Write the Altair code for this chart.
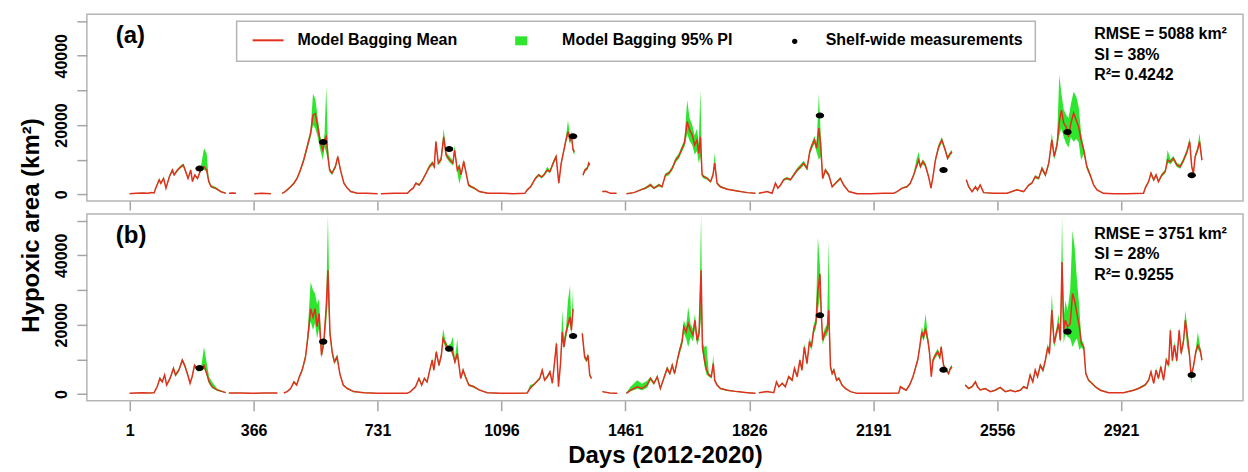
import altair as alt
import pandas as pd

# Daily hypoxic-area series, stored in thousands of km2. A None entry in every
# list marks a gap (days without model output), which breaks the line and band.
A_DAY = [
    1, 20, 40, 55, 65, 73, 78, 83, 88, 93, 101, 108, 118, 127, 132, 142, 152, 159, 166, 173, 181, 186, 193, 201, 210, 220, 228, 234, 241, 254, 269, 284, None,
    294, 304, 314, None, 368, 390, 417, None,
    450, 458, 465, 475, 485, 494, 504, 514, 524, 534, 541, 548, 555, 563, 570, 575, 580, 585, 590, 597, 607, 614, 622, 632, 642, 652, 672, 700, 731, None,
    741, 780, 819, 829, 836, 844, 854, 864, 874, 884, 893, 898, 903, 910, 918, 926, 933, 943, 953, 958, 966, 972, 977, 985, 992, 999, 1007, 1016, 1031, 1056, 1095, 1130, 1165,
    1172, 1182, 1196, 1206, 1214, 1221, 1231, 1239, 1248, 1257, 1265, 1272, 1278, 1285, 1292, 1298, 1302, 1307, 1311, None,
    1336, 1342, 1349, 1353, 1356, None, 1393, 1403, 1417, 1435, None,
    1464, 1486, 1506, 1520, 1535, 1545, 1560, 1569, 1579, 1589, 1599, 1609, 1618, 1628, 1635, 1643, 1650, 1658, 1665, 1672, 1677, 1682, 1687, 1692, 1702, 1712, 1719, 1724, 1731, 1741, 1761, 1790, 1820, 1844, None,
    1854, 1878, 1893, 1903, 1910, 1918, 1927, 1937, 1947, 1957, 1967, 1977, 1986, 1996, 2004, 2011, 2018, 2024, 2031, 2036, 2042, 2050, 2060, 2070, 2080, 2094, 2104, 2119, 2143, 2183, 2220, 2251,
    2261, 2276, 2290, 2300, 2310, 2318, 2325, 2330, 2337, 2344, 2354, 2361, 2367, 2374, 2384, 2393, 2403, 2410, 2418, 2423, None,
    2465, 2472, 2482, 2492, 2498, 2506, 2516, 2546, 2585, 2614, 2634, 2649, 2658, 2668, 2678, 2688, 2698, 2708, 2717, 2724, 2732, 2739, 2745, 2752, 2759, 2766, 2773, 2781, 2789, 2796, 2803, 2811, 2820, 2830, 2840, 2850, 2869, 2899, 2938, 2987,
    2992, 3002, 3009, 3017, 3024, 3031, 3041, 3051, 3058, 3066, 3075, 3085, 3095, 3105, 3115, 3123, 3129, 3134, 3139, 3146, 3152, 3159,
]
A_MEAN = [
    0.2, 0.3, 0.4, 0.3, 0.5, 0.4, 1.8, 3.0, 4.2, 3.2, 4.6, 1.8, 5.1, 7.0, 5.6, 7.0, 8.0, 8.5, 6.6, 4.6, 7.0, 3.7, 5.6, 4.6, 7.0, 8.0, 7.0, 3.7, 2.2, 1.8, 0.8, 0.3, None,
    0.3, 0.4, 0.3, None, 0.2, 0.3, 0.2, None,
    0.3, 0.7, 1.3, 2.2, 3.2, 4.6, 7.0, 10.0, 13.8, 17.6, 22.9, 23.3, 19.5, 14.7, 12.8, 15.7, 16.6, 10.9, 7.0, 6.1, 8.0, 10.9, 7.0, 3.2, 1.8, 0.8, 0.3, 0.3, 0.2, None,
    0.2, 0.3, 0.3, 1.3, 1.8, 3.2, 2.7, 4.2, 6.1, 8.0, 9.0, 8.0, 15.2, 9.0, 10.0, 16.6, 11.4, 10.0, 9.0, 12.8, 7.0, 8.0, 5.6, 9.5, 6.1, 2.7, 2.2, 1.8, 0.8, 0.3, 0.3, 0.2, 0.3,
    1.3, 2.2, 4.6, 5.6, 5.0, 5.6, 7.0, 6.6, 9.0, 10.9, 3.2, 9.0, 11.8, 15.2, 18.1, 15.7, 17.1, 12.8, 12.3, None,
    5.6, 7.0, 7.5, 9.0, 8.5, None, 0.8, 0.9, 0.3, 0.3, None,
    0.2, 0.5, 1.3, 1.8, 2.7, 1.8, 2.7, 2.2, 5.6, 6.1, 7.5, 9.9, 10.9, 13.3, 14.7, 21.0, 18.6, 17.1, 14.2, 15.7, 11.8, 16.6, 5.6, 5.1, 4.6, 3.7, 5.6, 9.0, 3.2, 2.2, 1.5, 1.0, 0.5, 0.3, None,
    0.3, 0.8, 0.3, 3.2, 1.8, 2.7, 4.2, 4.6, 4.2, 5.6, 7.0, 8.0, 9.0, 7.5, 12.3, 14.2, 15.7, 13.3, 19.1, 14.7, 4.6, 7.0, 5.6, 2.2, 3.2, 4.6, 2.7, 0.8, 0.2, 0.2, 0.3, 0.3,
    0.8, 1.8, 2.2, 3.2, 5.6, 8.0, 9.9, 8.0, 9.4, 8.5, 5.1, 1.8, 5.1, 9.9, 13.8, 15.7, 12.8, 10.4, 11.8, 12.3, None,
    4.2, 2.2, 0.8, 2.2, 1.2, 2.7, 0.5, 0.3, 0.3, 1.3, 0.8, 2.7, 3.2, 5.1, 4.6, 7.5, 5.6, 9.0, 15.7, 10.9, 14.2, 21.0, 24.3, 20.5, 19.5, 16.6, 20.5, 23.4, 21.4, 19.5, 15.7, 12.8, 8.0, 5.6, 2.7, 1.3, 0.3, 0.2, 0.2, 0.3,
    1.8, 3.7, 6.1, 4.2, 5.6, 3.7, 5.6, 6.6, 9.9, 9.4, 10.4, 8.5, 8.0, 9.9, 12.3, 15.2, 8.0, 6.1, 10.9, 12.8, 15.2, 9.9,
]
A_LO = [
    0.2, 0.3, 0.4, 0.3, 0.4, 0.4, 1.6, 2.8, 3.9, 3.0, 4.3, 1.6, 4.8, 6.6, 5.3, 6.6, 7.6, 8.0, 6.2, 4.3, 6.6, 3.4, 5.3, 4.3, 6.5, 7.2, 6.4, 3.3, 1.9, 1.5, 0.6, 0.2, None,
    0.2, 0.3, 0.2, None, 0.1, 0.2, 0.1, None,
    0.2, 0.6, 1.1, 2.0, 2.9, 4.3, 6.5, 9.4, 12.9, 16.5, 20.0, 19.0, 16.5, 12.5, 9.9, 13.5, 12.0, 9.9, 6.4, 5.6, 7.5, 10.2, 6.5, 2.9, 1.6, 0.6, 0.2, 0.2, 0.1, None,
    0.1, 0.2, 0.2, 1.1, 1.6, 3.0, 2.5, 3.9, 5.7, 7.5, 8.4, 7.5, 14.3, 8.4, 9.4, 15.0, 10.7, 9.3, 8.3, 12.0, 6.4, 3.0, 5.1, 8.8, 5.5, 2.3, 1.9, 1.5, 0.6, 0.2, 0.2, 0.1, 0.2,
    1.1, 2.0, 4.3, 5.2, 4.6, 5.2, 6.6, 6.1, 8.4, 10.2, 2.9, 8.5, 11.1, 14.3, 17.0, 14.6, 16.0, 11.9, 11.5, None,
    5.0, 6.5, 7.0, 8.5, 8.0, None, 0.7, 0.8, 0.2, 0.2, None,
    0.1, 0.4, 1.1, 1.5, 2.3, 1.5, 2.3, 1.9, 5.1, 5.5, 6.9, 9.2, 10.2, 12.4, 13.7, 17.5, 15.5, 14.2, 11.5, 12.5, 9.0, 11.0, 5.0, 4.6, 4.2, 3.3, 5.1, 8.2, 2.8, 1.9, 1.3, 0.8, 0.4, 0.2, None,
    0.2, 0.7, 0.2, 2.9, 1.6, 2.5, 3.9, 4.2, 3.9, 5.2, 6.5, 7.4, 8.4, 6.9, 11.4, 13.2, 14.6, 12.2, 9.9, 11.0, 4.1, 6.4, 5.1, 1.9, 2.9, 4.2, 2.4, 0.7, 0.1, 0.1, 0.2, 0.2,
    0.7, 1.6, 1.9, 2.9, 5.1, 7.4, 9.2, 7.4, 8.7, 7.9, 4.7, 1.5, 4.7, 9.3, 13.0, 14.9, 12.2, 9.9, 11.2, 11.7, None,
    3.9, 1.9, 0.6, 1.9, 1.0, 2.4, 0.4, 0.2, 0.2, 1.1, 0.7, 2.4, 2.9, 4.6, 4.2, 6.9, 5.1, 8.3, 14.6, 10.0, 13.1, 17.0, 19.0, 16.5, 14.7, 13.5, 16.5, 15.2, 16.0, 15.0, 9.9, 11.6, 7.2, 5.0, 2.4, 1.1, 0.2, 0.1, 0.1, 0.2,
    1.5, 3.3, 5.5, 3.8, 5.1, 3.3, 5.1, 6.0, 9.2, 8.7, 9.7, 7.9, 7.4, 9.2, 11.5, 14.3, 7.4, 5.5, 10.2, 12.0, 14.3, 9.2,
]
A_HI = [
    0.3, 0.4, 0.5, 0.4, 0.6, 0.5, 2.0, 3.4, 4.6, 3.5, 5.0, 2.0, 5.5, 7.5, 6.0, 7.4, 8.4, 8.9, 7.0, 4.9, 7.4, 4.0, 5.9, 4.9, 7.5, 13.3, 11.8, 4.3, 2.7, 2.1, 1.1, 0.4, None,
    0.4, 0.5, 0.4, None, 0.3, 0.4, 0.3, None,
    0.4, 0.8, 1.5, 2.5, 3.6, 5.0, 7.6, 10.8, 14.6, 18.8, 29.0, 27.5, 22.0, 16.5, 14.5, 17.5, 31.0, 14.0, 7.7, 6.6, 8.6, 11.5, 7.5, 3.5, 2.0, 1.0, 0.4, 0.4, 0.3, None,
    0.3, 0.4, 0.4, 1.5, 2.0, 3.5, 3.0, 4.6, 6.6, 8.6, 9.6, 8.5, 15.7, 9.6, 10.8, 19.0, 12.2, 11.0, 9.8, 14.2, 7.8, 8.8, 6.2, 10.2, 6.6, 3.1, 2.5, 2.1, 1.0, 0.4, 0.4, 0.3, 0.4,
    1.5, 2.5, 5.0, 6.0, 5.4, 6.0, 8.0, 7.0, 9.6, 11.5, 3.6, 9.5, 12.5, 15.9, 21.4, 16.8, 18.3, 13.4, 12.9, None,
    6.1, 7.5, 8.0, 9.5, 9.0, None, 0.9, 1.0, 0.4, 0.4, None,
    0.3, 0.6, 1.5, 2.1, 3.2, 2.1, 3.1, 2.5, 6.1, 6.6, 8.1, 10.6, 11.7, 14.2, 15.8, 27.2, 22.0, 20.0, 17.0, 19.0, 14.5, 30.0, 6.3, 5.5, 5.0, 4.0, 6.2, 12.0, 3.6, 2.5, 1.7, 1.2, 0.6, 0.4, None,
    0.4, 0.9, 0.4, 3.5, 2.0, 3.0, 4.6, 5.0, 4.6, 6.1, 7.6, 8.7, 9.7, 8.2, 13.2, 15.1, 16.9, 14.4, 29.1, 18.0, 5.1, 7.6, 6.1, 2.5, 3.6, 5.0, 3.0, 1.0, 0.3, 0.3, 0.4, 0.4,
    0.9, 2.0, 2.5, 3.5, 6.1, 10.0, 12.3, 8.7, 10.1, 9.2, 5.6, 2.1, 5.6, 10.6, 14.6, 16.5, 13.4, 11.0, 12.4, 12.8, None,
    4.5, 2.5, 1.0, 2.5, 1.4, 3.0, 0.6, 0.4, 0.4, 1.5, 0.9, 3.0, 3.5, 5.6, 5.0, 8.1, 6.1, 9.7, 17.7, 11.7, 15.3, 34.4, 29.2, 24.5, 23.0, 22.0, 26.0, 29.6, 28.2, 25.3, 18.0, 13.6, 8.6, 6.1, 3.0, 1.5, 0.4, 0.3, 0.3, 0.4,
    2.1, 4.1, 6.7, 4.6, 6.1, 4.1, 6.1, 7.2, 12.8, 10.1, 11.1, 9.1, 8.6, 10.6, 13.1, 16.5, 8.6, 6.7, 11.6, 13.6, 17.6, 10.6,
]

B_DAY = [
    1, 20, 40, 55, 73, 82, 90, 97, 104, 110, 120, 130, 136, 146, 156, 163, 171, 179, 185, 192, 202, 212, 220, 228, 235, 244, 259, 284, None,
    293, 330, 360, 400, 436, None,
    455, 465, 475, 485, 493, 499, 509, 519, 526, 534, 541, 547, 553, 559, 566, 573, 580, 585, 591, 598, 604, 612, 620, 630, 642, 661, 691, 730, 770, 818,
    828, 843, 853, 861, 869, 877, 885, 892, 897, 904, 912, 919, 924, 931, 938, 946, 953, 959, 966, 971, 976, 983, 990, 1000, 1015, 1030, 1054, 1093, 1130, 1172,
    1180, 1190, 1199, 1209, 1216, 1223, 1231, 1239, 1246, 1253, 1258, 1264, 1270, 1275, 1280, 1286, 1292, 1298, 1302, 1307, None,
    1334, 1341, 1347, 1351, 1356, 1361, None, 1393, 1415, 1437, None,
    1464, 1476, 1496, 1510, 1525, 1535, 1545, 1555, 1564, 1574, 1584, 1592, 1599, 1606, 1614, 1621, 1628, 1633, 1640, 1646, 1653, 1660, 1666, 1672, 1678, 1684, 1688, 1694, 1700, 1707, 1714, 1720, 1724, 1731, 1741, 1761, 1790, 1820, 1844, None,
    1854, 1878, 1898, 1906, 1913, 1923, 1932, 1942, 1952, 1959, 1967, 1975, 1981, 1988, 1996, 2003, 2009, 2016, 2022, 2028, 2034, 2038, 2042, 2048, 2055, 2060, 2065, 2070, 2075, 2083, 2090, 2099, 2109, 2124, 2143, 2183, 2230, 2266,
    2271, 2279, 2288, 2298, 2308, 2315, 2322, 2328, 2334, 2339, 2345, 2352, 2357, 2362, 2367, 2374, 2381, 2387, 2391, 2398, 2406, 2413, 2418, 2423, None,
    2462, 2472, 2482, 2492, 2498, 2506, 2521, 2536, 2550, 2565, 2580, 2595, 2609, 2624, 2634, 2644, 2653, 2661, 2668, 2675, 2683, 2691, 2698, 2705, 2710, 2717, 2724, 2730, 2737, 2742, 2747, 2752, 2757, 2763, 2771, 2778, 2784, 2791, 2798, 2804, 2811, 2817, 2825, 2835, 2845, 2860, 2884, 2928, 2958, 2972, 2982, 2992,
    3002, 3009, 3017, 3024, 3031, 3038, 3046, 3054, 3061, 3066, 3072, 3078, 3085, 3092, 3098, 3105, 3110, 3115, 3122, 3127, 3134, 3141, 3147, 3154, 3159,
]
B_MEAN = [
    0.2, 0.3, 0.4, 0.3, 0.4, 2.1, 4.5, 3.5, 5.5, 2.6, 4.5, 7.4, 5.5, 6.9, 9.8, 8.3, 5.9, 3.1, 5.0, 8.3, 6.9, 7.4, 8.3, 5.9, 3.5, 2.1, 1.2, 0.4, None,
    0.3, 0.3, 0.2, 0.3, 0.3, None,
    0.3, 0.7, 1.6, 3.5, 2.6, 4.5, 6.9, 10.7, 16.5, 24.6, 22.2, 24.6, 19.4, 23.2, 11.2, 15.1, 25.1, 35.7, 17.5, 11.7, 9.3, 10.7, 5.9, 2.6, 1.6, 0.7, 0.4, 0.2, 0.2, 0.2,
    0.7, 2.1, 4.5, 2.6, 4.5, 3.5, 6.9, 9.8, 6.9, 12.2, 8.3, 11.2, 16.0, 14.6, 13.1, 13.6, 11.7, 9.3, 11.7, 8.3, 4.5, 6.9, 5.0, 2.6, 2.1, 1.2, 0.4, 0.2, 0.2, 0.3,
    1.6, 2.6, 3.5, 4.5, 6.9, 4.0, 5.0, 6.4, 3.1, 9.8, 14.6, 2.1, 8.8, 17.9, 13.6, 17.5, 20.3, 22.2, 18.4, 24.6, None,
    17.5, 10.7, 9.8, 11.2, 5.5, 4.5, None, 0.7, 0.3, 0.2, None,
    0.2, 1.1, 2.1, 1.6, 2.6, 4.5, 3.1, 5.0, 1.6, 4.5, 7.4, 5.9, 8.3, 5.9, 9.8, 12.7, 15.1, 19.4, 17.9, 20.3, 18.4, 17.0, 21.3, 15.5, 17.5, 35.7, 13.6, 9.8, 6.9, 5.5, 5.0, 8.8, 4.0, 2.6, 1.6, 1.1, 0.7, 0.4, 0.2, None,
    0.4, 0.7, 0.4, 3.5, 2.1, 3.1, 2.1, 5.0, 4.0, 7.4, 5.0, 9.8, 6.9, 13.6, 8.8, 15.1, 13.6, 18.9, 20.3, 29.9, 34.7, 23.2, 15.5, 17.5, 18.4, 24.2, 7.9, 5.9, 6.9, 4.0, 4.5, 2.6, 1.6, 0.7, 0.2, 0.2, 0.2, 0.3,
    2.1, 1.6, 1.1, 2.6, 5.0, 7.4, 9.8, 13.6, 17.9, 16.5, 18.9, 15.5, 11.7, 5.0, 9.8, 11.2, 12.2, 10.7, 13.6, 8.3, 6.9, 5.9, 7.4, 7.9, None,
    2.6, 1.6, 2.1, 3.5, 2.1, 1.2, 1.6, 0.7, 1.1, 1.9, 0.7, 1.1, 0.7, 1.1, 2.1, 1.6, 5.5, 3.5, 6.9, 5.0, 8.3, 6.9, 9.8, 13.6, 11.7, 24.2, 14.6, 17.5, 20.3, 15.5, 38.1, 18.4, 21.3, 19.4, 20.3, 29.0, 27.0, 23.2, 19.4, 14.6, 13.6, 5.9, 4.0, 3.1, 2.1, 1.1, 0.4, 0.4, 1.1, 1.6, 2.1, 2.6,
    4.0, 6.4, 3.1, 6.9, 4.5, 7.9, 4.0, 9.8, 8.3, 18.4, 9.6, 14.1, 9.6, 18.4, 11.7, 15.5, 21.3, 17.5, 11.7, 5.5, 7.9, 12.2, 14.1, 12.7, 9.8,
]
B_LO = [
    0.1, 0.2, 0.3, 0.2, 0.3, 1.9, 4.1, 3.2, 5.1, 2.3, 4.1, 6.9, 5.0, 6.4, 9.1, 7.7, 5.4, 2.8, 4.6, 7.7, 6.4, 6.7, 7.4, 5.3, 3.0, 1.7, 0.9, 0.3, None,
    0.2, 0.2, 0.1, 0.2, 0.2, None,
    0.2, 0.6, 1.4, 3.2, 2.3, 4.1, 6.3, 9.8, 15.2, 21.0, 18.5, 20.5, 16.0, 19.0, 10.3, 13.8, 20.5, 28.0, 16.0, 10.8, 8.6, 9.9, 5.4, 2.3, 1.4, 0.5, 0.3, 0.1, 0.1, 0.1,
    0.6, 1.9, 4.1, 2.3, 4.1, 3.2, 6.4, 9.1, 6.4, 11.3, 7.7, 10.4, 15.0, 13.5, 12.2, 12.5, 10.8, 8.6, 10.8, 7.6, 4.1, 6.3, 4.5, 2.3, 1.8, 1.0, 0.3, 0.1, 0.1, 0.2,
    1.4, 2.3, 3.2, 4.1, 6.4, 3.6, 4.6, 5.9, 2.8, 9.1, 13.5, 1.8, 8.1, 16.5, 12.8, 16.2, 18.9, 20.4, 17.0, 22.8, None,
    16.5, 10.0, 9.1, 10.4, 5.0, 4.1, None, 0.6, 0.2, 0.1, None,
    0.1, 0.7, 1.5, 1.1, 1.8, 3.9, 2.6, 4.5, 1.3, 4.0, 6.8, 5.4, 7.6, 5.4, 9.0, 11.7, 13.8, 17.6, 16.0, 13.6, 16.4, 15.2, 19.3, 14.0, 15.7, 22.0, 12.5, 8.0, 5.6, 5.0, 4.5, 7.5, 3.6, 2.3, 1.4, 0.9, 0.6, 0.3, 0.1, None,
    0.3, 0.6, 0.3, 3.2, 1.9, 2.8, 1.9, 4.6, 3.6, 6.9, 4.6, 9.1, 6.4, 12.7, 8.2, 14.1, 12.6, 17.5, 18.7, 24.2, 28.0, 21.4, 14.3, 16.2, 17.0, 19.0, 7.3, 5.4, 6.4, 3.6, 4.1, 2.3, 1.4, 0.6, 0.1, 0.1, 0.1, 0.2,
    1.9, 1.4, 0.9, 2.3, 4.6, 6.9, 9.1, 12.6, 16.7, 15.2, 17.4, 14.3, 10.8, 4.6, 9.1, 10.4, 11.3, 9.9, 12.7, 7.7, 6.4, 5.4, 6.9, 7.3, None,
    2.3, 1.4, 1.8, 3.1, 1.8, 1.0, 1.4, 0.6, 0.9, 1.6, 0.6, 0.9, 0.6, 0.9, 1.8, 1.4, 5.0, 3.1, 6.3, 4.6, 7.6, 6.3, 9.0, 12.6, 10.8, 20.5, 13.5, 16.2, 18.9, 14.6, 28.0, 14.6, 17.5, 16.5, 16.0, 13.6, 15.0, 16.0, 12.7, 13.5, 12.6, 5.4, 3.6, 2.8, 1.8, 0.9, 0.3, 0.3, 0.9, 1.4, 1.8, 2.3,
    3.6, 5.9, 2.8, 6.3, 4.1, 7.3, 3.6, 9.0, 7.6, 16.9, 8.9, 13.0, 8.9, 16.9, 10.8, 14.3, 19.6, 13.6, 10.8, 3.0, 7.3, 11.3, 13.0, 11.7, 9.0,
]
B_HI = [
    0.3, 0.4, 0.5, 0.4, 0.5, 2.4, 5.0, 3.8, 6.0, 2.9, 4.9, 8.0, 6.0, 7.4, 10.3, 8.8, 6.3, 3.4, 5.4, 8.8, 7.4, 8.0, 13.6, 9.0, 5.0, 3.5, 1.5, 0.5, None,
    0.4, 0.4, 0.3, 0.4, 0.4, None,
    0.4, 0.8, 1.8, 3.8, 2.9, 4.9, 7.4, 11.6, 19.0, 32.3, 30.0, 29.0, 26.0, 27.5, 12.6, 16.5, 27.0, 51.5, 19.2, 12.6, 10.0, 11.4, 6.4, 2.9, 1.8, 0.8, 0.5, 0.3, 0.3, 0.3,
    0.8, 2.3, 4.9, 2.9, 4.9, 3.8, 7.4, 10.5, 7.4, 12.7, 8.9, 12.0, 18.9, 15.5, 14.0, 14.5, 16.5, 10.0, 16.0, 9.0, 4.9, 7.5, 5.5, 2.9, 2.4, 1.4, 0.5, 0.3, 0.3, 0.4,
    2.6, 2.9, 3.8, 4.9, 7.4, 4.4, 5.4, 6.9, 3.4, 10.5, 15.5, 2.4, 9.5, 24.2, 16.0, 18.8, 27.0, 31.3, 20.2, 30.5, None,
    18.5, 11.4, 10.5, 12.0, 5.9, 4.9, None, 0.8, 0.4, 0.3, None,
    0.4, 2.1, 4.0, 3.0, 3.8, 5.0, 3.5, 5.5, 1.9, 5.0, 8.0, 6.4, 9.0, 6.4, 10.6, 13.6, 16.3, 21.3, 19.5, 25.1, 20.2, 18.8, 23.2, 17.0, 19.3, 52.0, 14.8, 13.6, 14.0, 6.0, 5.5, 11.2, 4.4, 2.9, 1.8, 1.3, 0.8, 0.5, 0.3, None,
    0.5, 0.8, 0.5, 3.8, 2.3, 3.4, 2.3, 5.4, 4.4, 8.0, 5.4, 10.5, 7.4, 14.6, 9.5, 16.2, 14.6, 20.2, 21.9, 45.2, 37.0, 25.1, 16.8, 18.9, 20.0, 44.3, 8.7, 6.5, 7.5, 4.4, 4.9, 2.9, 1.8, 0.8, 0.3, 0.3, 0.3, 0.4,
    2.4, 1.8, 1.3, 2.9, 5.4, 8.0, 10.5, 14.6, 19.4, 17.8, 23.2, 16.7, 12.6, 5.4, 10.5, 12.0, 13.1, 11.5, 14.4, 8.9, 7.4, 6.4, 7.9, 8.5, None,
    2.9, 1.8, 2.4, 3.8, 2.4, 1.4, 1.8, 0.8, 1.3, 2.1, 0.8, 1.3, 0.8, 1.3, 2.4, 1.8, 6.0, 3.8, 7.4, 5.4, 8.9, 7.4, 10.5, 14.6, 12.5, 29.0, 15.7, 18.7, 23.2, 16.7, 51.0, 22.0, 27.0, 24.0, 30.0, 47.2, 42.5, 32.8, 25.0, 15.7, 14.6, 6.4, 4.4, 3.4, 2.4, 1.3, 0.5, 0.5, 1.3, 1.8, 2.4, 3.0,
    4.4, 6.9, 3.4, 7.5, 4.9, 8.5, 4.4, 10.6, 9.0, 19.5, 10.3, 15.2, 10.3, 19.4, 12.6, 16.7, 24.2, 20.0, 12.6, 6.0, 8.5, 13.1, 17.9, 13.7, 10.6,
]

# Shelf-wide cruise measurements (km2)
OBS_DAY = [207, 571, 942, 1307, 2034, 2398, 2763, 3129]
OBS_AREA = [7480, 15120, 13080, 16760, 22720, 7040, 18005, 5480]

TICK_DAYS = [1, 366, 731, 1096, 1461, 1826, 2191, 2556, 2921]
Y_TICKS = [0, 10000, 20000, 30000, 40000, 50000]

STATS_A = ["RMSE = 5088 km\u00b2", "SI = 38%", "R\u00b2= 0.4242"]
STATS_B = ["RMSE = 3751 km\u00b2", "SI = 28%", "R\u00b2= 0.9255"]

LEGEND_LABELS = ["Model Bagging Mean", "Model Bagging 95% PI", "Shelf-wide measurements"]

RED = "#e0301e"
GREEN = "#2ee62e"
FRAME = "#b5b5b5"
FONT = "Liberation Sans"
W, H = 1158, 187
THOUSAND = 1000


def series_frame(days, mean, lo, hi):
    assert len(days) == len(mean) == len(lo) == len(hi)
    rows, seg = [], 0
    for d, m, l, h in zip(days, mean, lo, hi):
        if d is None:
            seg += 1
            continue
        rows.append({"day": d, "mean": m * THOUSAND, "lo": l * THOUSAND,
                     "hi": h * THOUSAND, "seg": seg})
    return pd.DataFrame(rows)


obs = pd.DataFrame({"day": OBS_DAY, "area": OBS_AREA})
one = pd.DataFrame({"k": [0]})

xs = alt.Scale(domain=[-125, 3280], nice=False, zero=False)
ys = alt.Scale(domain=[-1930, 51930], nice=False, zero=False)

ELLIPSE = "M-1,0A1,0.72,0,1,1,1,0A1,0.72,0,1,1,-1,0Z"


def text_layer(txt, x, y, size=16, align="left", baseline="alphabetic"):
    return alt.Chart(one).mark_text(
        text=txt, align=align, baseline=baseline, font=FONT,
        fontWeight="bold", fontSize=size, color="black",
    ).encode(x=alt.value(x), y=alt.value(y))


def panel(df, tag, stats, show_labels):
    y_common = dict(
        values=Y_TICKS, format="d", labelOverlap=False,
        labelExpr="datum.value % 20000 === 0 ? datum.label : ''",
        labelAngle=270, labelAlign="center", labelBaseline="bottom",
        labelPadding=7, tickSize=10,
    )
    if show_labels:
        x_axis = alt.Axis(values=TICK_DAYS, format="d", tickSize=10, labelPadding=12,
                          labelOverlap=False, labelFlush=False,
                          title="Days (2012-2020)", titleFontSize=24,
                          titleY=62, titleBaseline="alphabetic")
        y_axis = alt.Axis(title=None, **y_common)
    else:
        x_axis = alt.Axis(values=TICK_DAYS, tickSize=9, labels=False, title=None)
        y_axis = alt.Axis(title="Hypoxic area (km\u00b2)", titleFontSize=24,
                          titleAngle=270, titleX=-48, titleY=211,
                          titleAlign="center", titleBaseline="alphabetic",
                          **y_common)

    X = alt.X("day:Q", scale=xs, axis=x_axis)
    base = alt.Chart(df)
    band = base.mark_area(color=GREEN, opacity=1, clip=True).encode(
        x=X, y=alt.Y("lo:Q", scale=ys, axis=y_axis), y2="hi:Q", detail="seg:N")
    line = base.mark_line(color=RED, strokeWidth=1.5, clip=True).encode(
        x=X, y=alt.Y("mean:Q", scale=ys, axis=y_axis), detail="seg:N")
    dots = alt.Chart(obs).mark_point(shape=ELLIPSE, filled=True, color="black",
                                     opacity=1, size=70).encode(
        x=X, y=alt.Y("area:Q", scale=ys, axis=y_axis))

    layers = [band, line, dots, text_layer(tag, 29, 29, size=24)]
    for i, s in enumerate(stats):
        layers.append(text_layer(s, 1009, 25 + 20.5 * i))

    if not show_labels:
        box = alt.Chart(one).mark_rect(fill="white", stroke=FRAME, strokeWidth=1.5).encode(
            x=alt.value(150), x2=alt.value(950), y=alt.value(7), y2=alt.value(47))
        swatch_line = alt.Chart(one).mark_rule(color=RED, strokeWidth=2).encode(
            x=alt.value(166), x2=alt.value(197), y=alt.value(26))
        swatch_band = alt.Chart(one).mark_rect(color=GREEN).encode(
            x=alt.value(429), x2=alt.value(441), y=alt.value(22), y2=alt.value(31))
        swatch_dot = alt.Chart(one).mark_point(shape="circle", filled=True, color="black",
                                               opacity=1, size=28).encode(
            x=alt.value(709), y=alt.value(27))
        layers += [box, swatch_line, swatch_band, swatch_dot,
                   text_layer(LEGEND_LABELS[0], 211, 26, baseline="middle"),
                   text_layer(LEGEND_LABELS[1], 476, 26, baseline="middle"),
                   text_layer(LEGEND_LABELS[2], 740, 26, baseline="middle")]

    return alt.layer(*layers).properties(width=W, height=H)


panel_a = panel(series_frame(A_DAY, A_MEAN, A_LO, A_HI), "(a)", STATS_A, False)
panel_b = panel(series_frame(B_DAY, B_MEAN, B_LO, B_HI), "(b)", STATS_B, True)

chart = (
    alt.vconcat(panel_a, panel_b, spacing=13, bounds="flush")
    .properties(padding={"left": 19, "top": 13, "right": 4, "bottom": 0},
                background="white")
    .configure_view(stroke=FRAME, strokeWidth=1.5)
    .configure_axis(domain=False, grid=False, tickColor="#a5a5a5", tickWidth=1.5,
                    labelFont=FONT, labelFontWeight="bold", labelFontSize=16,
                    labelColor="black", titleFont=FONT, titleFontWeight="bold",
                    titleColor="black")
)

chart.save("out.html", embed_options={"renderer": "svg", "actions": False})
